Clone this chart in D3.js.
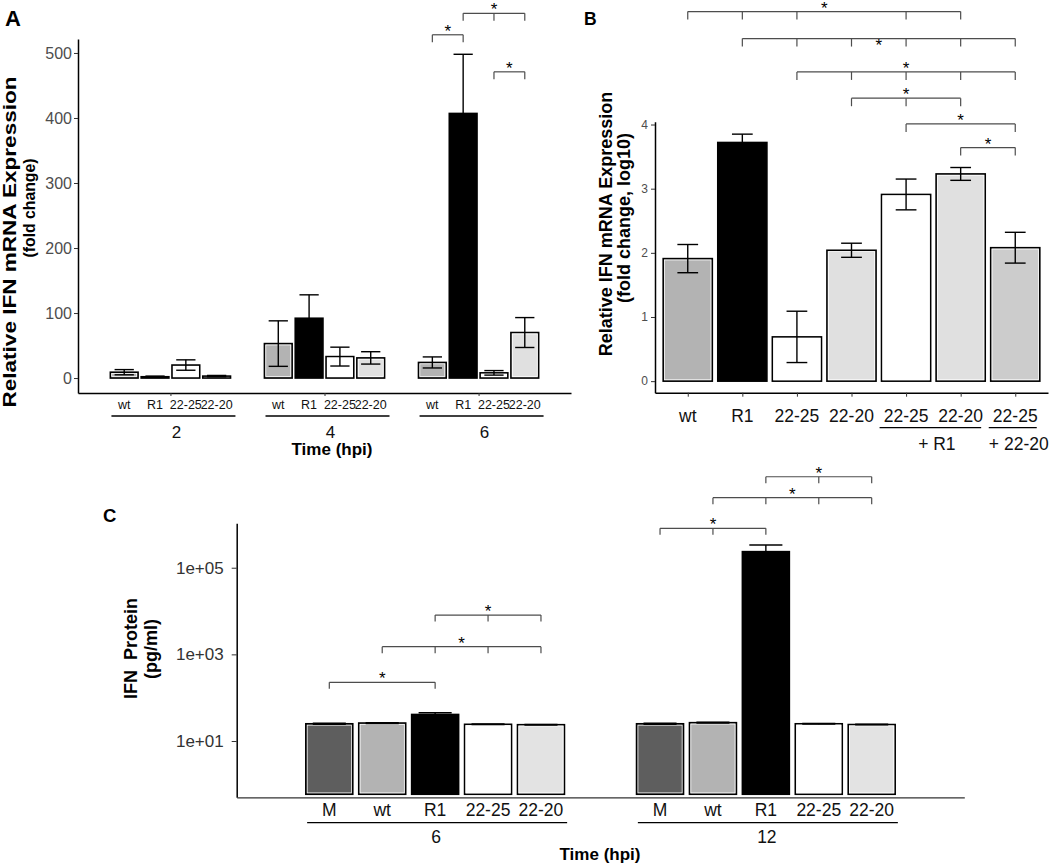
<!DOCTYPE html>
<html><head><meta charset="utf-8">
<script src="https://cdn.jsdelivr.net/npm/d3@7"></script>
<style>
body{margin:0;background:#fff}
text{font-family:"Liberation Sans",Arial,Helvetica,sans-serif}
</style>
</head><body>
<svg id="c" width="1050" height="864"></svg>
<script>
// ---------------- Panel A data ----------------
const aTimes = ["2", "4", "6"];
const aStrains = ["wt", "R1", "22-25", "22-20"];
const aMean2 = [9, 2, 20, 3];
const aErr2 = [4, 1, 8, 1];
const aMean4 = [53, 92, 33, 31];
const aErr4 = [35, 36, 14.5, 9.5];
const aMean6 = [24, 407, 8, 70];
const aErr6 = [8.5, 91, 3.5, 23];
const aYTicks = [0, 100, 200, 300, 400, 500];
const aFills = ["#b3b3b3", "#000000", "#ffffff", "#e0e0e0"];
// significance brackets (time group, strain indices, level in data units)
const aBrTime = ["6", "6", "6"];
const aBrIdx = [[0, 1], [1, 2, 3], [2, 3]];
const aBrLevel = [528, 561, 471];

// ---------------- Panel B data ----------------
const bLabels = ["wt", "R1", "22-25", "22-20", "22-25", "22-20", "22-25"];
const bMean = [1.91, 3.72, 0.69, 2.04, 2.91, 3.23, 2.08];
const bErr = [0.22, 0.13, 0.40, 0.11, 0.24, 0.10, 0.24];
const bYTicks = [0, 1, 2, 3, 4];
const bFills = ["#b3b3b3", "#000000", "#ffffff", "#e0e0e0", "#ffffff", "#e0e0e0", "#cccccc"];
const bComboLabels = ["+ R1", "+ 22-20"];
const bComboIdx = [[4, 5], [6]];
const bBrIdx = [[0, 1, 2, 4, 5], [1, 2, 3, 4, 5, 6], [2, 3, 4, 5, 6], [3, 4, 5], [4, 6], [5, 6]];
const bBrLevel = [5.76, 5.34, 4.82, 4.41, 4.01, 3.64];
const bBrStarShift = [0, 10, 0, 0, 0, 0];

// ---------------- Panel C data ----------------
const cTimes = ["6", "12"];
const cStrains = ["M", "wt", "R1", "22-25", "22-20"];
const cMean6 = [25, 26, 41, 24.3, 23.8];
const cErr6 = [0.6, 0.6, 4, 0.4, 0.4];
const cMean12 = [25, 26.5, 235000, 25, 24];
const cErr12 = [0.6, 0.6, 100000, 0.5, 0.4];
const cYTicks = [10, 1000, 100000];
const cBase = 0.59;
const cFills = ["#5e5e5e", "#b3b3b3", "#000000", "#ffffff", "#e3e3e3"];
const cBrIdx = [[0, 2], [1, 2, 3, 4], [2, 3, 4], [5, 6, 7], [6, 7, 8, 9], [7, 8, 9]];
const cBrLevel = [226, 1503, 8090, 811000, 4130000, 12600000];

// ---------------- helpers ----------------
const svg = d3.select("#c");

function drawBars(g, items, y, base) {
  items.forEach(d => {
    const yt = y(d.m), yb = y(base);
    g.append("rect")
      .attr("x", d.x - d.w / 2).attr("y", yt)
      .attr("width", d.w).attr("height", Math.max(0.5, yb - yt))
      .attr("fill", d.fill).attr("stroke", "#000").attr("stroke-width", 1.6);
    if (d.fill !== "#000000" && yb - yt > 5) {
      g.append("rect")
        .attr("x", d.x - d.w / 2 + 1.4).attr("y", yt + 1.4)
        .attr("width", d.w - 2.8).attr("height", yb - yt - 2.8)
        .attr("fill", "none").attr("stroke", "#fff").attr("stroke-width", 0.7);
    }
  });
  items.forEach(d => {
    const y1 = y(d.m + d.e), y0 = y(d.m - d.e);
    const gg = g.append("g").attr("stroke", "#000").attr("stroke-width", 1.4);
    gg.append("line").attr("x1", d.x).attr("x2", d.x).attr("y1", y1).attr("y2", y0);
    gg.append("line").attr("x1", d.x - d.cap / 2).attr("x2", d.x + d.cap / 2).attr("y1", y1).attr("y2", y1);
    gg.append("line").attr("x1", d.x - d.cap / 2).attr("x2", d.x + d.cap / 2).attr("y1", y0).attr("y2", y0);
  });
}

function drawBracket(g, xs, yLine, drop, starShift) {
  const x0 = d3.min(xs), x1 = d3.max(xs);
  const gg = g.append("g").attr("stroke", "#4d4d4d").attr("stroke-width", 1.2).attr("fill", "none");
  gg.append("line").attr("x1", x0).attr("x2", x1).attr("y1", yLine).attr("y2", yLine);
  xs.forEach(x => gg.append("line").attr("x1", x).attr("x2", x).attr("y1", yLine).attr("y2", yLine + drop));
  g.append("text").attr("x", (x0 + x1) / 2).attr("y", yLine + 2 + (starShift || 0))
    .attr("text-anchor", "middle").attr("font-size", 17).attr("fill", "#000").text("*");
}

function styleAxis(sel, fontSize, color) {
  sel.select(".domain").attr("stroke", "#000").attr("stroke-width", 1.5);
  sel.selectAll(".tick line").attr("stroke", "#333").attr("stroke-width", 1);
  sel.selectAll(".tick text").attr("font-size", fontSize).attr("fill", color)
    .attr("font-family", '"Liberation Sans",Arial,sans-serif');
}

// ================= Panel A =================
{
  const g = svg.append("g");
  const x = d3.scalePoint().domain(aTimes).range([78, 571]).padding(0.6);
  const y = d3.scaleLinear().domain([-23, 521.5]).range([393, 39]);
  const step = x.step();
  const means = [aMean2, aMean4, aMean6], errs = [aErr2, aErr4, aErr6];
  const pos = (t, j) => x(t) + (j - 1.5) * 0.2 * step;
  const items = [];
  aTimes.forEach((t, i) => aStrains.forEach((s, j) => items.push({
    x: pos(t, j), w: 0.18 * step, cap: 0.125 * step, m: means[i][j], e: errs[i][j], fill: aFills[j]
  })));
  drawBars(g, items, y, 0);

  const ya = g.append("g").attr("transform", "translate(78,0)")
    .call(d3.axisLeft(y).tickValues(aYTicks).tickSize(4).tickSizeOuter(0).tickPadding(2));
  styleAxis(ya, 16, "#4d4d4d");
  const xa = g.append("g").attr("transform", "translate(0,393)")
    .call(d3.axisBottom(x).tickSize(3).tickSizeOuter(0).tickFormat(""));
  styleAxis(xa, 12, "#333");

  aTimes.forEach((t, i) => {
    aStrains.forEach((s, j) => g.append("text").attr("x", pos(t, j)).attr("y", 408.5)
      .attr("text-anchor", "middle").attr("font-size", 12.5).attr("fill", "#111").text(s));
    g.append("line").attr("x1", x(t) - 59).attr("x2", x(t) + 65).attr("y1", 416).attr("y2", 416)
      .attr("stroke", "#000").attr("stroke-width", 1.3);
    g.append("text").attr("x", x(t) + 6).attr("y", 437.5).attr("text-anchor", "middle")
      .attr("font-size", 17).attr("fill", "#111").text(t);
  });
  g.append("text").attr("x", 332).attr("y", 455).attr("text-anchor", "middle")
    .attr("font-size", 17).attr("font-weight", "bold").text("Time (hpi)");

  g.append("text").attr("transform", "translate(15.5,242) rotate(-90)").attr("text-anchor", "middle")
    .attr("font-size", 18).attr("font-weight", "bold")
    .attr("textLength", 331).attr("lengthAdjust", "spacingAndGlyphs").text("Relative IFN mRNA Expression");
  g.append("text").attr("transform", "translate(35,208) rotate(-90)").attr("text-anchor", "middle")
    .attr("font-size", 16.5).attr("font-weight", "bold")
    .attr("textLength", 99).attr("lengthAdjust", "spacingAndGlyphs").text("(fold change)");
  g.append("text").attr("x", 5).attr("y", 26).attr("font-size", 22).attr("font-weight", "bold").text("A");

  aBrIdx.forEach((idx, k) => drawBracket(g, idx.map(j => pos(aBrTime[k], j)), y(aBrLevel[k]), 7.5, 0));
}

// ================= Panel B =================
{
  const g = svg.append("g");
  const keys = bLabels.map((d, i) => String(i));
  const x = d3.scalePoint().domain(keys).range([655, 1048]).padding(0.6);
  const y = d3.scaleLinear().domain([-0.18, 4.044]).range([392.7, 121.7]);
  const step = x.step();
  const items = bMean.map((m, i) => ({ x: x(keys[i]), w: 0.9 * step, cap: 0.38 * step, m: m, e: bErr[i], fill: bFills[i] }));
  drawBars(g, items, y, 0);

  const ya = g.append("g").attr("transform", "translate(655,0)")
    .call(d3.axisLeft(y).tickValues(bYTicks).tickSize(4).tickSizeOuter(0).tickPadding(3).tickFormat(d3.format("d")));
  styleAxis(ya, 12, "#4d4d4d");
  const xa = g.append("g").attr("transform", "translate(0,392.7)")
    .call(d3.axisBottom(x).tickSize(4).tickSizeOuter(0).tickFormat(""));
  styleAxis(xa, 12, "#333");

  bLabels.forEach((s, i) => g.append("text").attr("x", x(keys[i])).attr("y", 421.7)
    .attr("text-anchor", "middle").attr("font-size", 17.5).attr("fill", "#111").text(s));
  bComboIdx.forEach((idx, k) => {
    const cs = idx.map(i => x(keys[i]));
    const lo = d3.min(cs) - 26.5, hi = d3.max(cs) + (idx.length > 1 ? 20.5 : 21.5);
    g.append("line").attr("x1", lo).attr("x2", hi).attr("y1", 427.7).attr("y2", 427.7)
      .attr("stroke", "#000").attr("stroke-width", 1.3);
    g.append("text").attr("x", (d3.min(cs) + d3.max(cs)) / 2 + 3.5).attr("y", 449.5)
      .attr("text-anchor", "middle").attr("font-size", 17.5).attr("fill", "#111").text(bComboLabels[k]);
  });

  g.append("text").attr("transform", "translate(612,224) rotate(-90)").attr("text-anchor", "middle")
    .attr("font-size", 18).attr("font-weight", "bold").text("Relative IFN mRNA Expression");
  g.append("text").attr("transform", "translate(630,218) rotate(-90)").attr("text-anchor", "middle")
    .attr("font-size", 18).attr("font-weight", "bold").text("(fold change, log10)");
  g.append("text").attr("x", 584).attr("y", 25).attr("font-size", 17.5).attr("font-weight", "bold").text("B");

  bBrIdx.forEach((idx, k) => drawBracket(g, idx.map(i => x(keys[i])), y(bBrLevel[k]), 8, bBrStarShift[k]));
}

// ================= Panel C =================
{
  const g = svg.append("g");
  const x = d3.scalePoint().domain(cTimes).range([236.7, 964.3]).padding(0.6);
  const y = d3.scaleLog().domain([0.502, 1.06e6]).range([797.3, 523.3]);
  const step = x.step();
  const means = [cMean6, cMean12], errs = [cErr6, cErr12];
  const pos = (t, j) => x(t) + (j - 2) * 0.16 * step;
  const items = [];
  const centers = [];
  cTimes.forEach((t, i) => cStrains.forEach((s, j) => {
    centers.push(pos(t, j));
    items.push({ x: pos(t, j), w: 0.142 * step, cap: 0.1 * step, m: means[i][j], e: errs[i][j], fill: cFills[j] });
  }));
  drawBars(g, items, y, cBase);

  const ya = g.append("g").attr("transform", "translate(236.7,0)")
    .call(d3.axisLeft(y).tickValues(cYTicks).tickSize(5).tickSizeOuter(0).tickPadding(8)
      .tickFormat(d => d3.format(".0e")(d).replace(/e\+(\d)$/, "e+0$1")));
  styleAxis(ya, 17, "#333");
  const xa = g.append("g").attr("transform", "translate(0,797.3)")
    .call(d3.axisBottom(x).tickSize(0).tickSizeOuter(0).tickFormat(""));
  styleAxis(xa, 12, "#333");
  xa.select(".domain").attr("stroke-width", 1.3).attr("stroke", "#333");

  cTimes.forEach((t, i) => {
    cStrains.forEach((s, j) => g.append("text").attr("x", pos(t, j)).attr("y", 816)
      .attr("text-anchor", "middle").attr("font-size", 17.5).attr("fill", "#111").text(s));
    g.append("line").attr("x1", x(t) - 128).attr("x2", x(t) + 132).attr("y1", 822.7).attr("y2", 822.7)
      .attr("stroke", "#000").attr("stroke-width", 1.3);
    g.append("text").attr("x", x(t) + 1).attr("y", 842.7).attr("text-anchor", "middle")
      .attr("font-size", 17.5).attr("fill", "#111").text(t);
  });
  g.append("text").attr("x", 600).attr("y", 860).attr("text-anchor", "middle")
    .attr("font-size", 17).attr("font-weight", "bold").text("Time (hpi)");

  g.append("text").attr("transform", "translate(137,648.5) rotate(-90)").attr("text-anchor", "middle")
    .attr("font-size", 18).attr("font-weight", "bold").style("white-space", "pre").text("IFN  Protein");
  g.append("text").attr("transform", "translate(157,649) rotate(-90)").attr("text-anchor", "middle")
    .attr("font-size", 18).attr("font-weight", "bold").text("(pg/ml)");
  g.append("text").attr("x", 103).attr("y", 522).attr("font-size", 18.5).attr("font-weight", "bold").text("C");

  cBrIdx.forEach((idx, k) => drawBracket(g, idx.map(i => centers[i]), y(cBrLevel[k]), 6.5, 0));
}
</script>
</body></html>
